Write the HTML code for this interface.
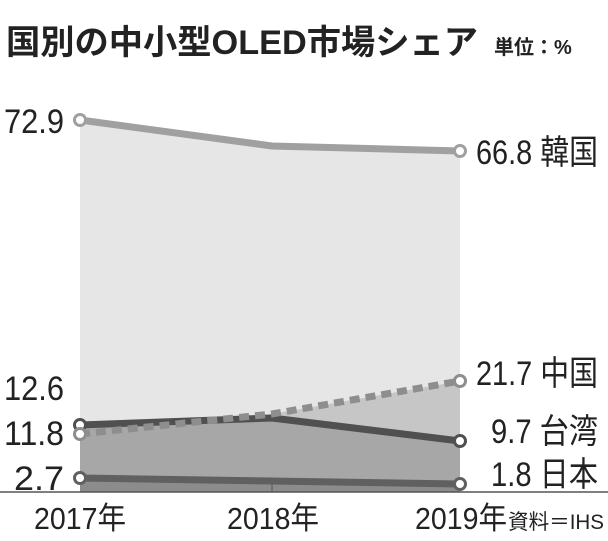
<!DOCTYPE html>
<html><head><meta charset="utf-8"><style>
body{margin:0;background:#fff;}
svg text{font-family:"Liberation Sans","Noto Sans CJK JP",sans-serif;fill:#222;}
</style></head><body>
<svg width="608" height="536" viewBox="0 0 608 536" xmlns="http://www.w3.org/2000/svg">
<text x="6" y="54" font-size="34" font-weight="bold" textLength="472" lengthAdjust="spacingAndGlyphs">国別の中小型OLED市場シェア</text>
<text x="494" y="54" font-size="20" font-weight="bold">単位：%</text>
<polygon points="80,120 272,146 460,151 460,492 80,492" fill="#e6e6e6"/>
<polygon points="80,434 272,414 460,381 460,492 80,492" fill="#c6c6c6"/>
<polygon points="80,425 272,418 460,441 460,492 80,492" fill="#a7a7a7"/>
<polygon points="80,478 272,481 460,484 460,492 80,492" fill="#8c8c8c"/>
<line x1="272" y1="481" x2="272" y2="492" stroke="#555" stroke-width="1"/>
<line x1="0" y1="492" x2="608" y2="492" stroke="#555" stroke-width="1.5"/>
<polyline points="80,120 272,146 460,151" fill="none" stroke="#a0a0a0" stroke-width="7"/>
<polyline points="80,425 272,418 460,441" fill="none" stroke="#505050" stroke-width="7"/>
<polyline points="80,434 272,414 460,381" fill="none" stroke="#8e8e8e" stroke-width="7" stroke-dasharray="10,6"/>
<polyline points="80,478 272,481 460,484" fill="none" stroke="#606060" stroke-width="7"/>
<g fill="#fff" stroke-width="3">
<circle cx="80" cy="120" r="5.5" stroke="#a0a0a0"/><circle cx="460" cy="151" r="5.5" stroke="#a0a0a0"/>
<circle cx="80" cy="425" r="5.5" stroke="#505050"/><circle cx="460" cy="441" r="5.5" stroke="#505050"/>
<circle cx="80" cy="434" r="5.5" stroke="#8e8e8e"/><circle cx="460" cy="381" r="5.5" stroke="#8e8e8e"/>
<circle cx="80" cy="478" r="5.5" stroke="#606060"/><circle cx="460" cy="484" r="5.5" stroke="#606060"/>
</g>
<g font-size="34">
<text x="4" y="133" textLength="60" lengthAdjust="spacingAndGlyphs">72.9</text>
<text x="4" y="400" textLength="60" lengthAdjust="spacingAndGlyphs">12.6</text>
<text x="4" y="445" textLength="60" lengthAdjust="spacingAndGlyphs">11.8</text>
<text x="14" y="490" textLength="50" lengthAdjust="spacingAndGlyphs">2.7</text>
<text x="476" y="164" textLength="122" lengthAdjust="spacingAndGlyphs">66.8 韓国</text>
<text x="476" y="385" textLength="122" lengthAdjust="spacingAndGlyphs">21.7 中国</text>
<text x="491" y="443" textLength="107" lengthAdjust="spacingAndGlyphs">9.7 台湾</text>
<text x="491" y="486" textLength="107" lengthAdjust="spacingAndGlyphs">1.8 日本</text>
</g>
<g font-size="31">
<text x="34" y="529" textLength="92" lengthAdjust="spacingAndGlyphs">2017年</text>
<text x="227" y="529" textLength="92" lengthAdjust="spacingAndGlyphs">2018年</text>
<text x="415" y="529" textLength="92" lengthAdjust="spacingAndGlyphs">2019年</text>
</g>
<text x="508" y="529" font-size="21" textLength="96" lengthAdjust="spacingAndGlyphs">資料＝IHS</text>
</svg>
</body></html>
